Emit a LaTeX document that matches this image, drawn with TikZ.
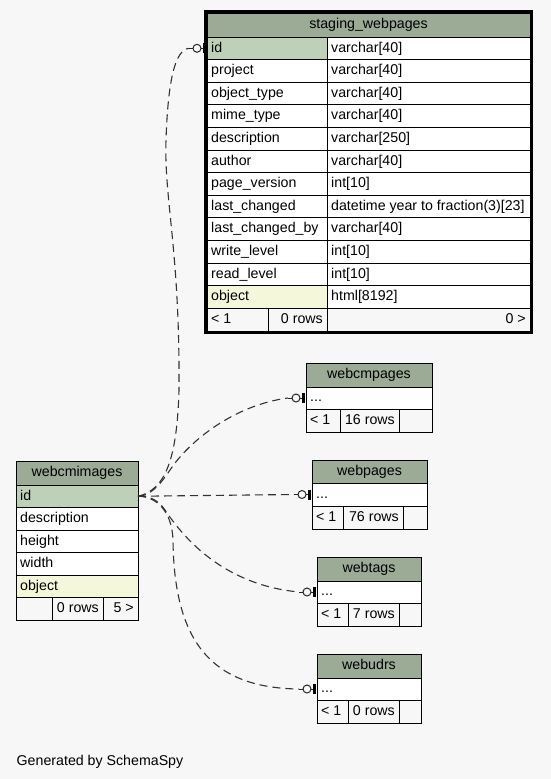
\documentclass[tikz,border=0pt]{standalone}
\usepackage{fontspec}
\setmainfont{Liberation Sans}
\usetikzlibrary{calc}
\definecolor{bgc}{HTML}{F7F7F7}
\definecolor{hdr}{HTML}{9BAB96}
\definecolor{pkc}{HTML}{BED1B8}
\definecolor{objc}{HTML}{F4F7DA}
\newcommand\tabfont{\fontsize{14.2}{16}\selectfont}
\tikzset{
  cellbox/.style={draw=black, line width=1pt, inner sep=0pt, outer sep=0pt, anchor=north west},
  txt/.style={font=\tabfont, inner sep=0pt, text height=10.5pt, text depth=3pt, text=black},
  al-west/.style={xshift=4pt},
  al-east/.style={xshift=-4pt},
  al-center/.style={},
  rel/.style={draw=black!80, line width=1.1pt, dash pattern=on 8pt off 5pt},
  zeroone/.pic={
    \draw[black!85, line width=1pt, solid] (-18pt,0pt) -- (-14pt,0pt);
    \draw[black!85, line width=1pt, solid] (-10pt,0pt) circle[radius=4pt];
    \draw[black!85, line width=1pt, solid] (-6pt,0pt) -- (-3pt,0pt);
    \draw[black, line width=2.6pt, solid] (-2.3pt,-5pt) -- (-2.3pt,5pt);
  }
}
% name, x1, y1, x2, y2, fill, anchor(west/east/center), text
\newcommand\tcell[8]{%
  \pgfmathsetmacro\cw{#4-#2}\pgfmathsetmacro\ch{#5-#3}%
  \node[cellbox, fill=#6, minimum width=\cw pt, minimum height=\ch pt] (#1) at (#2,#3) {};
  \node[txt, anchor=#7, al-#7] (#1-t) at (#1.#7) {#8};
}
\begin{document}
\begin{tikzpicture}[x=1pt, y=-1pt]
\fill[bgc] (0,0) rectangle (551,779);
\useasboundingbox (0,0) rectangle (551,779);

% ---------- staging_webpages ----------
\tcell{stg-h}{207}{13}{530}{37}{hdr}{center}{staging\_webpages}
\foreach \k/\a/\b/\fa in {
  0/id/varchar[40]/pkc,
  1/project/varchar[40]/white,
  2/object\_type/varchar[40]/white,
  3/mime\_type/varchar[40]/white,
  4/description/varchar[250]/white,
  5/author/varchar[40]/white,
  6/page\_version/int[10]/white,
  7/last\_changed/datetime year to fraction(3)[23]/white,
  8/last\_changed\_by/varchar[40]/white,
  9/write\_level/int[10]/white,
  10/read\_level/int[10]/white,
  11/object/html[8192]/objc}{
  \pgfmathsetmacro\ya{37+22.6*\k}\pgfmathsetmacro\yb{\ya+22.6}
  \tcell{stg-r\k-a}{207}{\ya}{327}{\yb}{\fa}{west}{\a}
  \tcell{stg-r\k-b}{327}{\ya}{530}{\yb}{white}{west}{\b}
}
\tcell{stg-f1}{207}{308.2}{268}{331}{bgc}{west}{< 1}
\tcell{stg-f2}{268}{308.2}{327}{331}{bgc}{east}{0 rows}
\tcell{stg-f3}{327}{308.2}{530}{331}{bgc}{east}{0 >}
\draw[line width=3pt] (205.5,11.5) rectangle (531.5,332.5);

% ---------- webcmimages ----------
\tcell{wci-h}{16}{461}{138}{485}{hdr}{center}{webcmimages}
\tcell{wci-id}{16}{485}{138}{507.5}{pkc}{west}{id}
\tcell{wci-desc}{16}{507.5}{138}{530}{white}{west}{description}
\tcell{wci-hgt}{16}{530}{138}{552.5}{white}{west}{height}
\tcell{wci-wid}{16}{552.5}{138}{575}{white}{west}{width}
\tcell{wci-obj}{16}{575}{138}{597.5}{objc}{west}{object}
\tcell{wci-f1}{16}{597.5}{52}{620}{bgc}{west}{}
\tcell{wci-f2}{52}{597.5}{103}{620}{bgc}{east}{0 rows}
\tcell{wci-f3}{103}{597.5}{138}{620}{bgc}{east}{5 >}

% ---------- webcmpages ----------
\tcell{wcp-h}{306}{363}{432}{387}{hdr}{center}{webcmpages}
\tcell{wcp-r}{306}{387}{432}{409}{white}{west}{...}
\tcell{wcp-f1}{306}{409}{340}{432}{bgc}{west}{< 1}
\tcell{wcp-f2}{340}{409}{399}{432}{bgc}{east}{16 rows}
\tcell{wcp-f3}{399}{409}{432}{432}{bgc}{east}{}

% ---------- webpages ----------
\tcell{wp-h}{312}{460}{427}{483}{hdr}{center}{webpages}
\tcell{wp-r}{312}{483}{427}{506}{white}{west}{...}
\tcell{wp-f1}{312}{506}{343}{529}{bgc}{west}{< 1}
\tcell{wp-f2}{343}{506}{403}{529}{bgc}{east}{76 rows}
\tcell{wp-f3}{403}{506}{427}{529}{bgc}{east}{}

% ---------- webtags ----------
\tcell{wt-h}{317}{557}{421}{581}{hdr}{center}{webtags}
\tcell{wt-r}{317}{581}{421}{603}{white}{west}{...}
\tcell{wt-f1}{317}{603}{348}{626}{bgc}{west}{< 1}
\tcell{wt-f2}{348}{603}{399}{626}{bgc}{east}{7 rows}
\tcell{wt-f3}{399}{603}{421}{626}{bgc}{east}{}

% ---------- webudrs ----------
\tcell{wu-h}{317}{654}{421}{678}{hdr}{center}{webudrs}
\tcell{wu-r}{317}{678}{421}{700}{white}{west}{...}
\tcell{wu-f1}{317}{700}{348}{723}{bgc}{west}{< 1}
\tcell{wu-f2}{348}{700}{399}{723}{bgc}{east}{0 rows}
\tcell{wu-f3}{399}{700}{421}{723}{bgc}{east}{}

% ---------- connectors ----------
\coordinate (e-stg) at ($(stg-r0-a.west)+(-18pt,0pt)$);
\coordinate (e-wcp) at ($(wcp-r.west)+(-18pt,0pt)$);
\coordinate (e-wp)  at ($(wp-r.west)+(-18pt,0pt)$);
\coordinate (e-wt)  at ($(wt-r.west)+(-18pt,0pt)$);
\coordinate (e-wu)  at ($(wu-r.west)+(-18pt,0pt)$);

\draw[rel] (wci-id.east) .. controls (165,490) and (177,460) .. (179,390)
  .. controls (180,250) and (164,200) .. (166,140)
  .. controls (168,80) and (175,50) .. (e-stg);
\draw[rel] (wci-id.east) .. controls (150,496) and (160,485) .. (170,470)
  .. controls (190,440) and (235,405) .. (e-wcp);
\draw[rel] (wci-id.east) -- (e-wp);
\draw[rel] (wci-id.east) .. controls (150,496) and (158,500) .. (165,510)
  .. controls (185,540) and (225,585) .. (e-wt);
\draw[rel] (wci-id.east) .. controls (155,496) and (172,510) .. (173,540)
  .. controls (174,640) and (210,688) .. (e-wu);

\pic at (stg-r0-a.west) {zeroone};
\pic at (wcp-r.west) {zeroone};
\pic at (wp-r.west) {zeroone};
\pic at (wt-r.west) {zeroone};
\pic at (wu-r.west) {zeroone};

\node[font=\tabfont, inner sep=0pt, anchor=base west] (gen) at (16.5,765) {Generated by SchemaSpy};
\end{tikzpicture}
\end{document}
